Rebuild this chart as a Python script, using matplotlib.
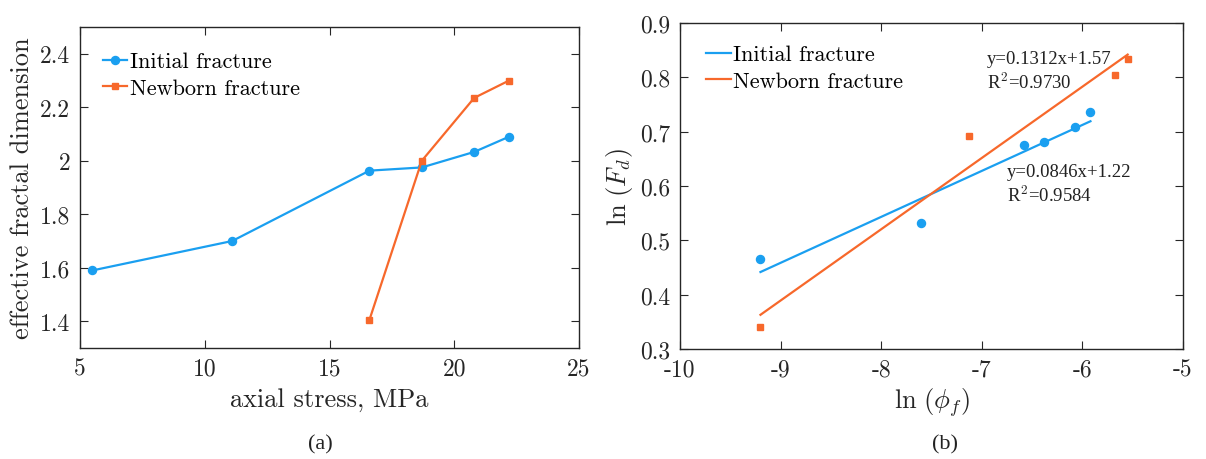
import matplotlib
matplotlib.use("Agg")
import matplotlib.pyplot as plt
import numpy as np
from matplotlib.ticker import FuncFormatter, MultipleLocator

plt.rcParams['font.family'] = 'cmr10'
plt.rcParams['mathtext.fontset'] = 'cm'
plt.rcParams['axes.formatter.use_mathtext'] = True

BLUE = '#1a9ff0'
ORANGE = '#f7682b'
AXC = '#262626'

# Panel (a)
stress_initial = [5.5, 11.1, 16.6, 18.7, 20.8, 22.2]
fd_initial = [1.59, 1.70, 1.963, 1.975, 2.033, 2.09]
stress_newborn = [16.6, 18.7, 20.8, 22.2]
fd_newborn = [1.405, 2.0, 2.235, 2.30]

# Panel (b)
lnphi_initial = [-9.2, -7.6, -6.58, -6.38, -6.07, -5.92]
lnfd_initial = [0.465, 0.532, 0.675, 0.681, 0.709, 0.737]
lnphi_newborn = [-9.2, -7.13, -5.68, -5.55]
lnfd_newborn = [0.340, 0.692, 0.804, 0.833]
fit_initial = (0.0846, 1.22)
fit_newborn = (0.1312, 1.57)
fit_initial_range = [-9.2, -5.92]
fit_newborn_range = [-9.2, -5.55]

fig = plt.figure(figsize=(12.06, 4.6), dpi=100)
W, H = 1206, 460
ax1 = fig.add_axes([80 / W, 1 - 349 / H, (579 - 80) / W, (349 - 28) / H])
ax2 = fig.add_axes([680 / W, 1 - 350 / H, (1183 - 680) / W, (350 - 24) / H])

fmt = FuncFormatter(lambda v, p: f'{v:g}')

def style(ax):
    for s in ax.spines.values():
        s.set_color(AXC)
        s.set_linewidth(1.0)
    ax.tick_params(direction='in', top=True, right=True, length=6, width=0.8,
                   colors=AXC, labelsize=17, pad=7)
    ax.xaxis.set_major_formatter(fmt)
    ax.yaxis.set_major_formatter(fmt)

ax1.plot(stress_initial, fd_initial, '-o', color=BLUE, lw=1.6, ms=5.8, label='Initial fracture')
ax1.plot(stress_newborn, fd_newborn, '-s', color=ORANGE, lw=1.6, ms=4.6, label='Newborn fracture')
ax1.set_xlim(5, 25)
ax1.set_ylim(1.3, 2.5)
ax1.xaxis.set_major_locator(MultipleLocator(5))
ax1.yaxis.set_major_locator(MultipleLocator(0.2))
style(ax1)
ax1.set_xlabel('axial stress, MPa', fontsize=19, color=AXC, labelpad=5)
ax1.set_ylabel('effective fractal dimension', fontsize=19, color=AXC, labelpad=4)
ax1.legend(loc='upper left', frameon=False, fontsize=16, handlelength=1.1,
           handletextpad=0.1, borderaxespad=0.0, labelspacing=0.3,
           bbox_to_anchor=(0.028, 0.95))

ax2.plot(lnphi_initial, lnfd_initial, 'o', color=BLUE, ms=5.8)
ax2.plot(lnphi_newborn, lnfd_newborn, 's', color=ORANGE, ms=4.6)
xi = np.array(fit_initial_range)
xn = np.array(fit_newborn_range)
ax2.plot(xi, fit_initial[0] * xi + fit_initial[1], '-', color=BLUE, lw=1.6, label='Initial fracture')
ax2.plot(xn, fit_newborn[0] * xn + fit_newborn[1], '-', color=ORANGE, lw=1.6, label='Newborn fracture')
ax2.set_xlim(-10, -5)
ax2.set_ylim(0.3, 0.9)
ax2.xaxis.set_major_locator(MultipleLocator(1))
ax2.yaxis.set_major_locator(MultipleLocator(0.1))
style(ax2)
ax2.set_xlabel(r'$\mathrm{ln}\ (\phi_f)$', fontsize=19, color=AXC, labelpad=3)
ax2.set_ylabel(r'$\mathrm{ln}\ (F_d)$', fontsize=19, color=AXC, labelpad=4)
ax2.legend(loc='upper left', frameon=False, fontsize=16, handlelength=1.1,
           handletextpad=0.1, borderaxespad=0.0, labelspacing=0.3,
           bbox_to_anchor=(0.035, 0.96))

tfont = dict(family='Liberation Serif', fontsize=13.5, color='#222222')
ax2.text(-6.95, 0.834, 'y=0.1312x+1.57', va='center', ha='left', **tfont)
ax2.text(-6.95, 0.793, r'R$^2$=0.9730', va='center', ha='left', **tfont)
ax2.text(-6.75, 0.626, 'y=0.0846x+1.22', va='center', ha='left', **tfont)
ax2.text(-6.75, 0.585, r'R$^2$=0.9584', va='center', ha='left', **tfont)

fig.text(320 / W, 1 - 445 / H, '(a)', ha='center', va='center', family='Liberation Serif', fontsize=16, color='#222222')
fig.text(945 / W, 1 - 445 / H, '(b)', ha='center', va='center', family='Liberation Serif', fontsize=16, color='#222222')

fig.savefig('out.png', dpi=100, facecolor='white')
